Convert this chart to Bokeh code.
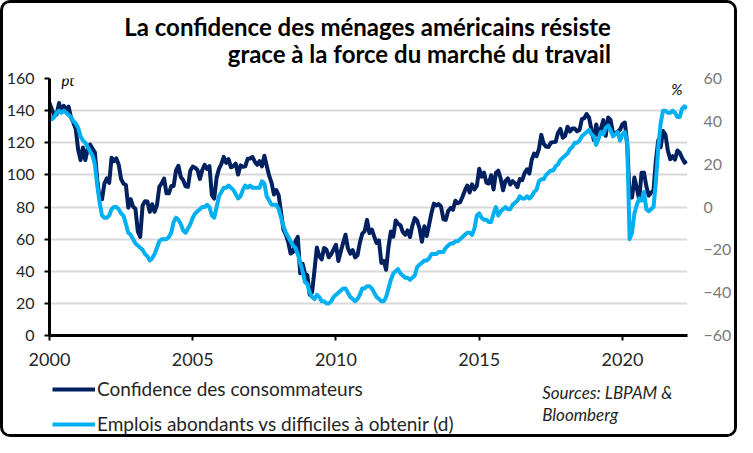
import numpy as np
from bokeh.plotting import figure
from bokeh.layouts import column
from bokeh.models import Range1d, LinearAxis, FixedTicker, Label, Legend, LegendItem
from bokeh.embed import file_html
from bokeh.resources import INLINE

# ---------------- data (monthly, Jan 2000 -> Apr 2022) ----------------
start_year = 2000
confidence = [
    144.7, 140.8, 137.1, 137.7, 144.7, 139.2, 143.0, 140.8, 142.5, 135.8, 132.6, 128.6,  # 2000
    115.7, 109.2, 117.0, 109.2, 116.1, 118.9, 116.3, 114.0, 97.0, 85.3, 84.9, 94.6,      # 2001
    97.8, 95.0, 110.7, 108.5, 110.3, 106.3, 97.4, 94.5, 93.7, 79.6, 84.9, 80.3,          # 2002
    78.8, 64.8, 61.4, 81.0, 83.6, 83.5, 77.0, 81.7, 77.0, 81.1, 92.5, 94.8,              # 2003
    97.7, 88.5, 88.5, 93.0, 93.1, 102.8, 105.7, 98.7, 96.7, 92.9, 92.6, 102.7,           # 2004
    105.1, 104.4, 103.0, 97.5, 103.1, 106.2, 103.6, 105.5, 87.5, 85.2, 98.3, 103.8,      # 2005
    106.8, 111.2, 107.5, 109.8, 104.7, 105.4, 107.0, 100.2, 105.9, 105.1, 105.3, 110.0,  # 2006
    110.2, 111.2, 108.2, 106.3, 108.5, 105.3, 111.9, 105.6, 99.5, 95.2, 87.8, 90.6,      # 2007
    87.3, 76.4, 65.9, 62.8, 58.1, 51.0, 51.9, 58.5, 61.4, 38.8, 44.7, 38.6,              # 2008
    37.4, 25.3, 26.9, 40.8, 54.8, 49.3, 47.4, 54.5, 53.4, 48.7, 50.6, 53.6,              # 2009
    56.5, 46.4, 52.3, 57.7, 62.7, 54.3, 51.0, 53.2, 48.6, 49.9, 57.8, 63.4,              # 2010
    64.8, 72.0, 63.8, 66.0, 61.7, 57.6, 59.2, 45.2, 46.4, 40.9, 55.2, 64.8,              # 2011
    61.5, 71.6, 69.5, 68.7, 64.4, 62.7, 65.4, 61.3, 68.4, 73.1, 71.5, 66.7,              # 2012
    58.4, 68.0, 61.9, 69.0, 76.2, 82.1, 81.0, 81.8, 80.2, 72.4, 72.0, 77.5,              # 2013
    79.4, 78.3, 83.9, 82.3, 83.0, 86.4, 90.3, 93.4, 89.0, 94.1, 91.0, 93.1,              # 2014
    103.8, 98.8, 101.4, 95.2, 94.6, 99.8, 90.9, 101.3, 102.6, 97.6, 90.4, 96.3,          # 2015
    97.8, 94.0, 96.1, 94.7, 92.4, 97.4, 96.7, 101.1, 103.5, 100.8, 109.4, 113.3,         # 2016
    111.6, 116.1, 124.9, 119.4, 117.6, 117.3, 120.0, 120.4, 120.6, 126.2, 128.6, 123.1,  # 2017
    124.3, 130.0, 127.0, 128.8, 128.8, 127.1, 127.9, 134.7, 135.3, 137.9, 135.7, 128.1,  # 2018
    121.7, 131.4, 124.2, 129.2, 134.1, 124.3, 135.7, 134.2, 126.3, 126.1, 126.8, 128.2,  # 2019
    131.6, 132.6, 118.8, 85.7, 85.9, 98.3, 91.7, 84.8, 101.3, 101.4, 92.9, 87.1,         # 2020
    88.9, 90.4, 109.0, 121.7, 117.2, 127.3, 125.1, 115.2, 109.8, 111.6, 109.5, 115.2,    # 2021
    113.8, 110.5, 107.6, 108.6,                                                          # 2022
]
emplois = [
    43, 41, 42, 44, 45, 44, 45, 44, 43, 42, 40, 39,                  # 2000
    37, 33, 31, 30, 28, 26, 24, 20, 10, 2, -4, -5,                   # 2001
    -5, -4, -1, 0, 0, -1, -3, -4, -8, -12, -13, -15,                 # 2002
    -17, -18, -19, -20, -22, -23, -25, -24, -22, -19, -16, -15,      # 2003
    -15, -15, -14, -12, -7, -5, -6, -8, -11, -12, -10, -8,           # 2004
    -5, -3, -2, -1, 0, 0, 1, 0, -4, -5, 0, 5,                        # 2005
    7, 9, 9, 10, 9, 8, 6, 4, 5, 8, 10, 9,                            # 2006
    10, 9, 9, 9, 9, 12, 11, 5, 3, 1, 1, 1,                           # 2007
    -1, -5, -9, -12, -14, -16, -18, -19, -22, -26, -30, -35,         # 2008
    -36, -40, -42, -43, -41, -42, -44, -44, -45, -45, -44, -42,      # 2009
    -41, -40, -39, -38, -38, -40, -42, -43, -44, -43, -41, -38,      # 2010
    -38, -37, -37, -38, -40, -42, -43, -44, -44, -42, -38, -34,      # 2011
    -31, -30, -29, -31, -32, -33, -33, -34, -33, -32, -28, -27,      # 2012
    -26, -25, -25, -24, -22, -22, -22, -21, -21, -21, -19, -18,      # 2013
    -17, -17, -16, -16, -15, -14, -13, -12, -12, -13, -10, -4,       # 2014
    -3, -5, -6, -6, -7, -7, -3, 0, -4, -2, -1, 0,                    # 2015
    -1, -1, 1, 2, 3, 5, 4, 4, 5, 4, 5, 7,                            # 2016
    8, 12, 13, 13, 15, 16, 17, 17, 19, 20, 22, 23,                   # 2017
    24, 25, 27, 28, 30, 30, 31, 33, 34, 35, 36, 34,                  # 2018
    33, 29, 32, 35, 34, 37, 38, 36, 33, 34, 35, 31,                  # 2019
    34, 35, 30, -15, -12, -3, 1, 4, 3, 7, -1, -2,                    # 2020
    -1, 0, 12, 28, 39, 45, 45, 44, 44, 45, 44, 42,                   # 2021
    42, 46, 47, 46,                                                  # 2022
]
x_ticks = [2000, 2005, 2010, 2015, 2020]
left_ticks = [0, 20, 40, 60, 80, 100, 120, 140, 160]
right_ticks = [-60, -40, -20, 0, 20, 40, 60]
series_names = ["Confidence des consommateurs",
                "Emplois abondants vs difficiles à obtenir (d)"]
title_lines = ["La confidence des ménages américains résiste",
               "grace à la force du marché du travail"]
source_lines = ["Sources: LBPAM &", "Bloomberg"]

dates = start_year + np.arange(len(confidence)) / 12.0

# ---------------- layout constants ----------------
W = 731                      # inner width (inside the 3px frame border)
H_TOP, H_MAIN, H_BOT = 65, 306, 60
BL, BR, BT, BB = 46, 44, 10, 39
FW = W - BL - BR
FH = H_MAIN - BT - BB
X0, X1 = 2000.0, 2022.27
Y0, Y1 = 0.0, 160.0

NAVY = "#002060"
CYAN = "#00b0f0"
FONT = "Lato"
TXT = "#262626"


def bare_figure(h):
    # frame spans the same horizontal extent as the main chart frame;
    # data x == canvas pixel, data y == pixel from the top of the strip
    f = figure(width=W, height=h, output_backend="svg", toolbar_location=None,
               x_range=Range1d(BL, W - BR), y_range=Range1d(h, 0),
               x_axis_location=None, y_axis_location=None, title_location=None,
               min_border=0, min_border_left=BL, min_border_right=BR,
               min_border_top=0, min_border_bottom=0)
    f.grid.visible = False
    f.outline_line_alpha = 0
    f.background_fill_color = "white"
    f.border_fill_color = "white"
    return f


# ---------------- title strip ----------------
top = bare_figure(H_TOP)
for i, t in enumerate(title_lines):
    top.add_layout(Label(x=610, y=23 + 27 * i, text=t, text_align="right",
                         text_baseline="alphabetic", text_font=FONT,
                         text_font_size="24px", text_font_style="bold",
                         text_color="black"))

# ---------------- main chart ----------------
p = figure(width=W, height=H_MAIN, output_backend="svg", toolbar_location=None,
           x_range=Range1d(X0, X1), y_range=Range1d(Y0, Y1), title_location=None,
           min_border_left=BL, min_border_right=BR,
           min_border_top=BT, min_border_bottom=BB)
p.extra_y_ranges = {"right": Range1d(right_ticks[0], right_ticks[-1])}
p.outline_line_alpha = 0
p.background_fill_color = "white"
p.border_fill_color = "white"

p.xgrid.visible = False
p.ygrid.grid_line_color = "#d9d9d9"
p.ygrid.grid_line_width = 2

xa = p.xaxis[0]
xa.ticker = FixedTicker(ticks=x_ticks)
xa.axis_line_width = 3
xa.axis_line_color = "black"
xa.major_tick_line_width = 2
xa.major_tick_line_color = "black"
xa.major_tick_out = 5
xa.major_tick_in = 0
xa.minor_tick_line_color = None
xa.major_label_standoff = 12
xa.major_label_text_font = FONT
xa.major_label_text_font_size = "18px"
xa.major_label_text_color = TXT

ya = p.yaxis[0]
ya.ticker = FixedTicker(ticks=left_ticks)
ya.axis_line_width = 3
ya.axis_line_color = "black"
ya.major_tick_line_width = 2
ya.major_tick_line_color = "black"
ya.major_tick_out = 5
ya.major_tick_in = 0
ya.minor_tick_line_color = None
ya.major_label_standoff = 10
ya.major_label_text_font = FONT
ya.major_label_text_font_size = "16px"
ya.major_label_text_color = TXT

ra = LinearAxis(y_range_name="right", ticker=FixedTicker(ticks=right_ticks))
ra.axis_line_color = None
ra.major_tick_line_color = None
ra.minor_tick_line_color = None
ra.major_tick_out = 0
ra.major_tick_in = 0
ra.major_label_standoff = 16
ra.major_label_text_font = FONT
ra.major_label_text_font_size = "16px"
ra.major_label_text_color = "#7a7a7a"
p.add_layout(ra, "right")

r1 = p.line(dates, confidence, color=NAVY, line_width=4, line_join="round")
r2 = p.line(dates, emplois, y_range_name="right", color=CYAN, line_width=4,
            line_join="round")

px_per_year = FW / (X1 - X0)
px_per_unit = FH / (Y1 - Y0)
p.add_layout(Label(x=X0 + 12 / px_per_year, y=Y1 - 1 / px_per_unit, text="pt",
                   text_align="left", text_baseline="alphabetic", text_font=FONT,
                   text_font_size="15px", text_font_style="italic", text_color="black"))
p.add_layout(Label(x=X1 - 5 / px_per_year, y=Y1 - 10 / px_per_unit, text="%",
                   text_align="right", text_baseline="alphabetic", text_font=FONT,
                   text_font_size="15px", text_font_style="italic", text_color="black"))

# ---------------- legend strip ----------------
bot = bare_figure(H_BOT)
# same series drawn in the strip (they fall outside its view) so that the
# legend can show their line swatches
g1 = bot.line(dates, confidence, color=NAVY, line_width=4)
g2 = bot.line(dates, emplois, color=CYAN, line_width=4)
legend = Legend(items=[LegendItem(label=series_names[0], renderers=[g1]),
                       LegendItem(label=series_names[1], renderers=[g2])],
                location="top_left", orientation="vertical",
                glyph_width=43, glyph_height=20, label_height=20,
                label_standoff=2, spacing=12, padding=0, margin=3,
                border_line_alpha=0, background_fill_alpha=0,
                label_text_font=FONT, label_text_font_size="19px",
                label_text_color=TXT)
bot.add_layout(legend)
for i, t in enumerate(source_lines):
    bot.add_layout(Label(x=541, y=18 + 22 * i, text=t, text_align="left",
                         text_baseline="alphabetic", text_font=FONT,
                         text_font_size="17px", text_font_style="italic",
                         text_color=TXT))

layout = column(top, p, bot, spacing=0, width=W + 6, height=H_TOP + H_MAIN + H_BOT + 6,
                styles={"border": "3px solid black", "border-radius": "10px",
                        "overflow": "hidden", "background-color": "white"})

open("out.html", "w").write(file_html(layout, INLINE))
